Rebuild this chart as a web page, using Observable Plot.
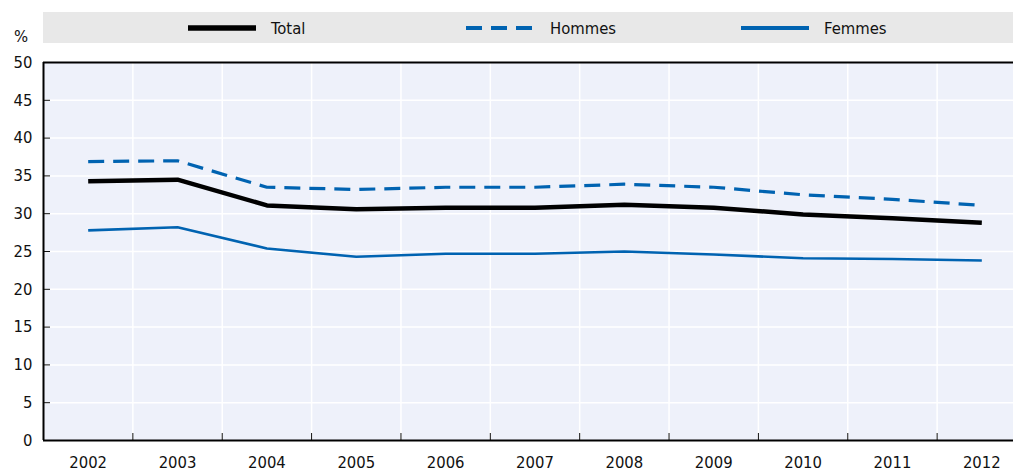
<!DOCTYPE html>
<html>
<head>
<meta charset="utf-8">
<script src="https://cdn.jsdelivr.net/npm/d3@7"></script>
<script src="https://cdn.jsdelivr.net/npm/@observablehq/plot@0.6"></script>
<style>
  html, body { margin: 0; padding: 0; background: #fff; }
  #wrap { position: relative; width: 1013px; height: 471px; overflow: hidden; font-family: "DejaVu Sans Condensed", "DejaVu Sans", sans-serif; font-stretch: condensed; }
  #wrap svg { position: absolute; left: 0; top: 0; overflow: hidden; }
  #legend { position: absolute; left: 43px; top: 12px; width: 970px; height: 31px; background: #e8e8e8; }
  .item { position: absolute; top: 1px; height: 31px; line-height: 31px; font-size: 16.5px; color: #111; }
  #pct { position: absolute; left: 14px; top: 27px; font-size: 16.5px; color: #111; }
</style>
</head>
<body>
<div id="wrap">
  <div id="legend"></div>
  <div id="pct">%</div>
</div>
<script>
const years = [2002, 2003, 2004, 2005, 2006, 2007, 2008, 2009, 2010, 2011, 2012];
const total  = [34.3, 34.5, 31.1, 30.6, 30.8, 30.8, 31.2, 30.8, 29.9, 29.4, 28.8];
const hommes = [36.9, 37.0, 33.5, 33.2, 33.5, 33.5, 33.9, 33.5, 32.5, 31.9, 31.1];
const femmes = [27.8, 28.2, 25.4, 24.3, 24.7, 24.7, 25.0, 24.6, 24.1, 24.0, 23.8];
const seriesNames = ["Total", "Hommes", "Femmes"];
const yTicks = [0, 5, 10, 15, 20, 25, 30, 35, 40, 45, 50];

const blue = "#0063b1";
const styles = {
  Total:  {stroke: "#000", strokeWidth: 4.5, dash: null},
  Hommes: {stroke: blue, strokeWidth: 3.2, dash: "16,9"},
  Femmes: {stroke: blue, strokeWidth: 2.6, dash: null}
};

const rows = [];
[total, hommes, femmes].forEach((arr, i) => {
  arr.forEach((v, j) => rows.push({series: seriesNames[i], year: years[j], value: v}));
});

const boundaries = years.slice(1).map(y => y - 0.5);
const xDomain = [years[0] - 0.5, years[years.length - 1] + 0.5];

const lineMarks = seriesNames.map(name => Plot.line(rows.filter(d => d.series === name), {
  x: "year", y: "value",
  stroke: styles[name].stroke,
  strokeWidth: styles[name].strokeWidth,
  strokeDasharray: styles[name].dash,
  strokeLinejoin: "miter",
  strokeLinecap: "butt"
}));

const font = '"DejaVu Sans Condensed", "DejaVu Sans", sans-serif';
const chart = Plot.plot({
  width: 1013,
  height: 471,
  marginTop: 62,
  marginBottom: 31,
  marginLeft: 43,
  marginRight: 0,
  style: {fontFamily: font, fontSize: "16.5px", color: "#111", background: "transparent", fontStretch: "condensed"},
  x: {domain: xDomain, type: "linear", range: [43, 1026]},
  y: {domain: [0, 50]},
  marks: [
    Plot.frame({fill: "#eef1fa", stroke: null}),
    Plot.ruleY(yTicks.slice(1, -1), {stroke: "#fff", strokeWidth: 1.5}),
    Plot.ruleX(boundaries, {stroke: "#fff", strokeWidth: 1.5}),
    Plot.axisY({ticks: yTicks, tickSize: 0, tickPadding: 11, tickFormat: d => String(d), label: null}),
    Plot.axisY({ticks: yTicks, tickSize: 7, dx: 7, text: null, label: null, strokeWidth: 1}),
    Plot.axisX({ticks: years, tickSize: 0, tickPadding: 15.5, tickFormat: d => String(d), label: null}),
    Plot.axisX({ticks: boundaries, tickSize: 7, dy: -7, text: null, label: null, strokeWidth: 1}),
    ...lineMarks,
    Plot.ruleX([xDomain[0]], {stroke: "#000", strokeWidth: 2}),
    Plot.ruleY([0], {stroke: "#000", strokeWidth: 2}),
    Plot.ruleY([50], {stroke: "#000", strokeWidth: 2})
  ]
});
document.getElementById("wrap").appendChild(chart);

// Legend
const legend = document.getElementById("legend");
const legendPos = {Total: [145, 228], Hommes: [423, 507], Femmes: [698, 781]};
seriesNames.forEach(name => {
  const [lx, tx] = legendPos[name];
  const s = styles[name];
  const svg = document.createElementNS("http://www.w3.org/2000/svg", "svg");
  svg.setAttribute("width", 70); svg.setAttribute("height", 31);
  svg.style.position = "absolute"; svg.style.left = lx + "px"; svg.style.top = "0px";
  const ln = document.createElementNS("http://www.w3.org/2000/svg", "line");
  ln.setAttribute("x1", 0); ln.setAttribute("x2", 68); ln.setAttribute("y1", 16); ln.setAttribute("y2", 16);
  ln.setAttribute("stroke", s.stroke);
  ln.setAttribute("stroke-width", name === "Total" ? 5.5 : 4);
  if (s.dash) ln.setAttribute("stroke-dasharray", s.dash);
  svg.appendChild(ln);
  legend.appendChild(svg);
  const t = document.createElement("div");
  t.className = "item"; t.style.left = tx + "px"; t.textContent = name;
  legend.appendChild(t);
});
</script>
</body>
</html>
